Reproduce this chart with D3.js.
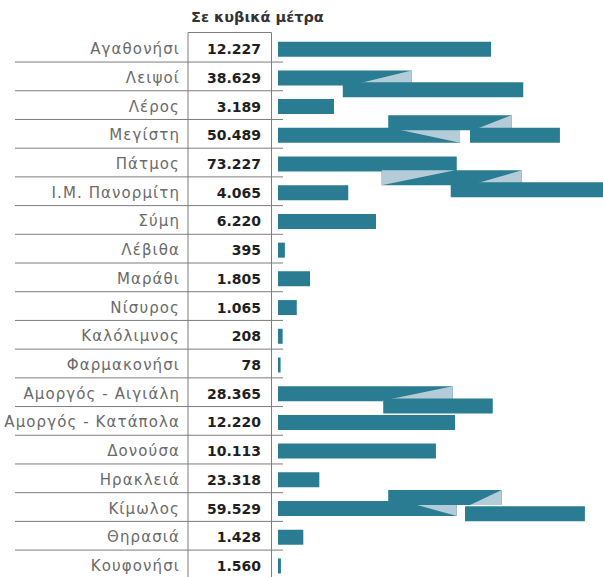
<!DOCTYPE html>
<html>
<head>
<meta charset="utf-8">
<script src="https://cdn.jsdelivr.net/npm/d3@7"></script>
<style>
  body { margin: 0; background: #fff; }
  svg { display: block; }
</style>
</head>
<body>
<svg id="chart" width="603" height="577"></svg>
<script>
// island ports, top to bottom
var islands = ["Αγαθονήσι", "Λειψοί", "Λέρος", "Μεγίστη", "Πάτμος", "Ι.Μ. Πανορμίτη",
  "Σύμη", "Λέβιθα", "Μαράθι", "Νίσυρος", "Καλόλιμνος", "Φαρμακονήσι",
  "Αμοργός - Αιγιάλη", "Αμοργός - Κατάπολα", "Δονούσα", "Ηρακλειά", "Κίμωλος",
  "Θηρασιά", "Κουφονήσι"];

// printed figures, cubic metres
var volumes = [12227, 38629, 3189, 50489, 73227, 4065, 6220, 395, 1805, 1065, 208, 78,
  28365, 12220, 10113, 23318, 59529, 1428, 1560];

// how far the first piece of each printed bar runs (m3 on the bar scale)
var barDrawn = [12370, 7760, 3250, 10570, 10380, 4080, 5690, 400, 1860, 1090, 270, 150,
  10140, 10280, 9170, 2400, 10380, 1470, 170];

// the long bars are folded in the print: extra pieces, lane = shift in rows
var foldPieces = [
  {island: "Λειψοί", lane: 0.41, from: 3760, to: 14240},
  {island: "Μεγίστη", lane: -0.44, from: 6400, to: 13570},
  {island: "Μεγίστη", lane: 0, from: 11150, to: 16370},
  {island: "Πάτμος", lane: 0.48, from: 6020, to: 14150},
  {island: "Πάτμος", lane: 0.9, from: 10030, to: 19500},
  {island: "Αμοργός - Αιγιάλη", lane: 0.43, from: 6110, to: 12470},
  {island: "Κίμωλος", lane: -0.38, from: 6400, to: 12990},
  {island: "Κίμωλος", lane: 0.18, from: 10860, to: 17820}
];

// light fold marks: on = piece number of that island (0 = first piece)
var wedges = [
  {island: "Λειψοί", on: 0, tip: 4180, full: 7760, edge: "bottom"},
  {island: "Μεγίστη", on: 0, tip: 6500, full: 10570, edge: "top"},
  {island: "Μεγίστη", on: 1, tip: 11320, full: 13570, edge: "bottom"},
  {island: "Πάτμος", on: 1, tip: 10280, full: 6020, edge: "top"},
  {island: "Πάτμος", on: 1, tip: 11150, full: 14150, edge: "bottom"},
  {island: "Αμοργός - Αιγιάλη", on: 0, tip: 5920, full: 10140, edge: "bottom"},
  {island: "Κίμωλος", on: 0, tip: 7250, full: 10380, edge: "top"},
  {island: "Κίμωλος", on: 1, tip: 11150, full: 12990, edge: "bottom"}
];

var svg = d3.select("#chart");
var W = 603, H = 577;

var y = d3.scaleBand().domain(islands).range([34.85, 580.3]);
var x = d3.scaleLinear().domain([0, 18000]).range([278, 588]);
var barH = 15;

var grFormat = d3.formatLocale({decimal: ",", thousands: ".", grouping: [3], currency: ["", "€"]}).format(",d");

function mid(name, lane) { return y(name) + y.bandwidth() / 2 + lane * y.bandwidth(); }

//build the drawing list in print order, so each fold sits on the piece before it
var shapes = [];
islands.forEach(function(name, i) {
  var pieces = [{island: name, lane: 0, from: 0, to: barDrawn[i]}]
    .concat(foldPieces.filter(function(p) { return p.island === name; }));
  pieces.forEach(function(p, k) {
    shapes.push({kind: "bar", d: p});
    wedges.filter(function(w) { return w.island === name && w.on === k; })
      .forEach(function(w) { shapes.push({kind: "wedge", d: w, lane: p.lane}); });
  });
});

function shapePath(s) {
  var path = d3.path();
  if (s.kind === "bar") {
    var c = mid(s.d.island, s.d.lane);
    path.rect(x(s.d.from), c - barH / 2, Math.max(1.5, x(s.d.to) - x(s.d.from)), barH);
  } else {
    var cc = mid(s.d.island, s.lane), top = cc - barH / 2, bot = cc + barH / 2;
    path.moveTo(x(s.d.tip), s.d.edge === "top" ? top : bot);
    path.lineTo(x(s.d.full), top);
    path.lineTo(x(s.d.full), bot);
    path.closePath();
  }
  return path.toString();
}

//grid lines of the table
var sepY = islands.slice(1).map(function(name) { return y(name) - 1.5; });
svg.append("g").selectAll("line").data(sepY).enter().append("line")
  .attr("x1", 15).attr("x2", 283)
  .attr("y1", function(d) { return d; }).attr("y2", function(d) { return d; })
  .style("stroke", "#7d7d7d").style("stroke-width", 1);

svg.append("line").attr("x1", 188).attr("x2", 271.5).attr("y1", 32.5).attr("y2", 32.5)
  .style("stroke", "#7d7d7d");
[188, 271.5].forEach(function(xx) {
  svg.append("line").attr("x1", xx).attr("x2", xx).attr("y1", 32.5).attr("y2", H)
    .style("stroke", "#7d7d7d");
});

//bars
svg.append("g").selectAll("path").data(shapes).enter().append("path")
  .attr("d", shapePath)
  .style("fill", function(s) { return s.kind === "bar" ? "#2a7c92" : "#b3ccd7"; });

//header
svg.append("text").attr("x", 191).attr("y", 22)
  .style("font-family", "'DejaVu Sans', sans-serif").style("font-weight", 700)
  .style("font-size", "14.5px").style("fill", "#333")
  .text("Σε κυβικά μέτρα");

//island names
svg.append("g").selectAll("text").data(islands).enter().append("text")
  .attr("x", 180)
  .attr("y", function(d) { return mid(d, 0) + 5; })
  .attr("text-anchor", "end")
  .style("font-family", "'DejaVu Sans', sans-serif").style("font-size", "15px")
  .style("letter-spacing", "1.1px")
  .style("fill", "#6a6a6a")
  .text(function(d) { return d; });

//values
svg.append("g").selectAll("text").data(volumes).enter().append("text")
  .attr("x", 261)
  .attr("y", function(d, i) { return mid(islands[i], 0) + 5; })
  .attr("text-anchor", "end")
  .style("font-family", "'DejaVu Sans', sans-serif").style("font-weight", 700)
  .style("font-size", "14px").style("fill", "#1f1f1f")
  .text(function(d) { return grFormat(d); });
</script>
</body>
</html>
